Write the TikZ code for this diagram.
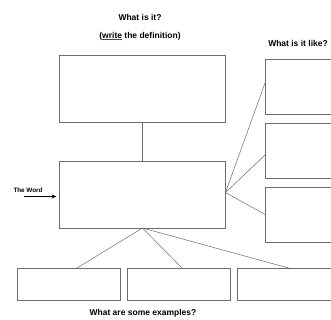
\documentclass[tikz,border=0pt]{standalone}
\usepackage{fontspec}
\setmainfont{Liberation Sans}
\usetikzlibrary{positioning,arrows.meta}

\tikzset{
  box/.style={draw=gray!85!black, line width=0.6pt, minimum width=#1, inner sep=0pt, outer sep=0pt},
  link/.style={draw=gray!85!black, line width=0.5pt},
  caption/.style={font=\bfseries\fontsize{8.5}{10}\selectfont, inner sep=0pt}
}

\begin{document}
\begin{tikzpicture}[x=1pt, y=-1pt]
    \useasboundingbox (0,0) rectangle (331,320);
    \clip (0,0) rectangle (331,320);
    \fill[white] (0,0) rectangle (331,320);

    % captions
    \node[caption] (whatis) at (140,17) {What is it?};
    \node[caption] (define) at (140,36) {({\color{blue!55!gray}\underline{\textcolor{black}{write}}} the definition)};
    \node[caption] (like) at (298,43) {What is it like?};
    \node[caption] (examples) at (143,313) {What are some examples?};

    % boxes
    \node[box=166pt, minimum height=67pt] (defn) at (142.5,88.5) {};
    \node[box=166pt, minimum height=67pt] (word) at (142.5,194.5) {};
    \node[box=80pt, minimum height=55pt] (like1) at (305,86.5) {};
    \node[box=80pt, minimum height=55pt] (like2) at (305,150.5) {};
    \node[box=80pt, minimum height=55pt] (like3) at (305,214.5) {};
    \node[box=103pt, minimum height=32pt] (ex1) at (68.5,284) {};
    \node[box=103pt, minimum height=32pt] (ex2) at (178.5,284) {};
    \node[box=103pt, minimum height=32pt] (ex3) at (288.5,284) {};

    % connectors
    \draw[link] (defn.south) -- (word.north);
    \draw[link] ([yshift=2pt]word.east) -- ([yshift=3.5pt]like1.west);
    \draw[link] ([yshift=2pt]word.east) -- ([yshift=-4.5pt]like2.west);
    \draw[link] ([yshift=2pt]word.east) -- (like3.west);
    \draw[link] (word.south) -- ([xshift=8.5pt]ex1.north);
    \draw[link] (word.south) -- ([xshift=3.5pt]ex2.north);
    \draw[link] (word.south) -- (ex3.north);

    % the word arrow
    \node[font=\bfseries\fontsize{6.3}{7}\selectfont, inner sep=0pt] (theword) at (28,190) {The Word};
    \coordinate (start) at (24,196.5);
    \draw[line width=1.1pt, -{Stealth[length=5pt, width=4pt]}] (start) -- ([xshift=-3pt, yshift=-2pt]word.west);
\end{tikzpicture}
\end{document}
